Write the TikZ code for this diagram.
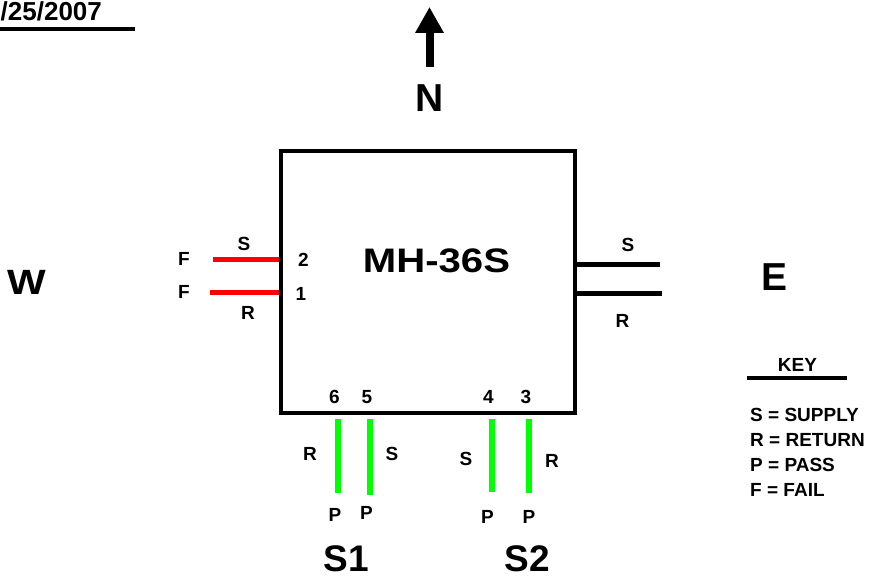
\documentclass[tikz,border=0pt]{standalone}
\usepackage{fontspec}
\setmainfont{Liberation Sans}
\usepackage{graphicx}
\usetikzlibrary{arrows.meta,calc}
\definecolor{PassGreen}{RGB}{0,255,0}
\definecolor{FailRed}{RGB}{255,0,0}

\begin{document}
\begin{tikzpicture}[x=1pt,y=-1pt,
    lbl/.style={inner sep=0pt,font=\fontsize{19}{22}\selectfont\bfseries},
    big/.style={inner sep=0pt,font=\fontsize{39}{45}\selectfont\bfseries},
    pipe/.style={line width=5pt}]
  \useasboundingbox (0,0) rectangle (870,580);
  % date line
  \node[inner sep=0pt,anchor=base west,font=\fontsize{26}{31}\selectfont\bfseries] (date) at (0.5,20.5) {/25/2007};
  \coordinate (datel) at (0,28.7);
  \coordinate (dater) at (135,28.7);
  \draw[line width=4pt] (datel) -- (dater);
  % north arrow
  \coordinate (nbase) at (429.5,67);
  \coordinate (ntip) at (429.5,7);
  \draw[line width=8pt,-{Triangle[width=27pt,length=26pt]}] (nbase) -- (ntip);
  \node[big] (north) at (429.5,98) {N};
  \node[big] (west) at (26.5,282.5) {\scalebox{1.05}[0.9]{W}};
  \node[big] (east) at (774.5,277.5) {E};
  % unit
  \node[draw,line width=4pt,minimum width=294.5pt,minimum height=261.5pt,inner sep=0pt] (unit) at (427.75,282.25) {};
  \node[inner sep=0pt,font=\fontsize{34}{40}\selectfont\bfseries] (model) at (436.5,261) {\scalebox{1.18}[1]{MH-36S}};
  % west side, fail
  \foreach \n/\x/\y in {2/213/259,1/210/292}{
    \coordinate (w\n) at (\x,\y);
    \draw[pipe,FailRed] (w\n) -- (w\n -| unit.west);
    \node[lbl] (wf\n) at (184,\y) {F};
  }
  % east side
  \foreach \n/\x/\y in {a/660/264.5,b/662/293}{
    \coordinate (e\n) at (\x,\y);
    \draw[pipe] (e\n) -- (e\n -| unit.east);
  }
  % south side, pass
  \foreach \n/\x/\y in {6/337.5/493,5/370/495,4/491.5/492,3/529/493}{
    \coordinate (s\n) at (\x,\y);
    \draw[pipe,line width=6pt,PassGreen] (s\n) -- ($(s\n |- unit.south)+(0,4)$);
    \node[lbl] (num\n) at (\x-3,397) {\n};
  }
  \node[lbl] (num2) at (303.5,260) {2};
  \node[lbl] (num1) at (301,294) {1};
  % pipe tags
  \foreach \t/\x/\y [count=\i] in {S/244/243.5,R/248/313,S/628/244.5,R/622.5/321,
      R/310/454,S/392/454,S/466/458.5,R/552/461,
      P/335/515,P/366.5/512.5,P/487.5/517,P/529/517}
    \node[lbl] (tag\i) at (\x,\y) {\t};
  \node[inner sep=0pt,font=\fontsize{37}{43}\selectfont\bfseries] (sone) at (346.5,558.5) {S1};
  \node[inner sep=0pt,font=\fontsize{37}{43}\selectfont\bfseries] (stwo) at (527,558.5) {S2};
  % key
  \node[lbl] (key) at (797.5,364.5) {KEY};
  \coordinate (keyl) at (747,378);
  \coordinate (keyr) at (847,378);
  \draw[line width=4pt] (keyl) -- (keyr);
  \foreach \t [count=\i] in {S = SUPPLY,R = RETURN,P = PASS,F = FAIL}
    \node[lbl,anchor=west] (key\i) at (750,390+25*\i) {\t};
\end{tikzpicture}
\end{document}
